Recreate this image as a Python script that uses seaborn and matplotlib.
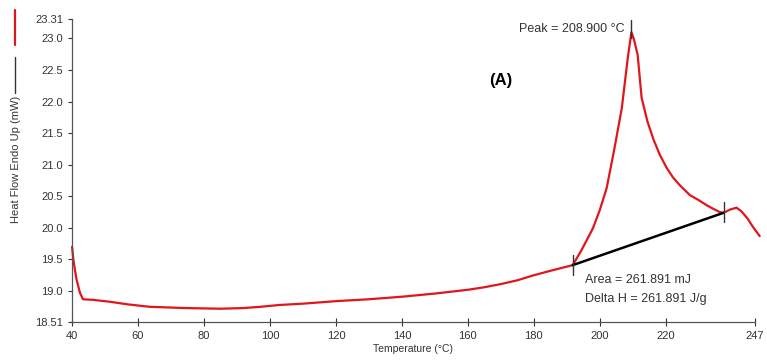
import seaborn as sns
import pandas as pd
import numpy as np
import matplotlib
matplotlib.use("Agg")
from matplotlib import pyplot as plt
from matplotlib.lines import Line2D

sns.set_style("ticks")
plt.rcParams["font.family"] = ["Liberation Sans", "DejaVu Sans"]

# DSC curve (temperature in °C, heat flow in mW)
temp = [40, 40.4, 40.9, 41.4, 42.4, 43.3, 46.4, 51.5, 56.7, 63.6, 74.8, 85,
        91.8, 97, 103, 110, 120, 130, 140, 150, 160, 165, 170, 175, 180, 185,
        188, 191.8, 194.5, 197.9, 200, 202.1, 204.5, 206.7, 208.5, 209.6,
        210.4, 211.5, 212.7, 214.5, 216.3, 218.2, 220.3, 222.2, 224.2, 227.3,
        230, 232.4, 234.5, 236.4, 237.6, 239.5, 241.5, 243, 244.8, 246.4,
        248.5]
heat = [19.70, 19.49, 19.32, 19.17, 18.97, 18.87, 18.86, 18.83, 18.79, 18.75,
        18.73, 18.72, 18.73, 18.75, 18.78, 18.80, 18.84, 18.87, 18.91, 18.96,
        19.02, 19.06, 19.11, 19.17, 19.25, 19.32, 19.36, 19.41, 19.65, 19.99,
        20.28, 20.63, 21.27, 21.90, 22.69, 23.10, 22.98, 22.74, 22.06, 21.68,
        21.40, 21.16, 20.95, 20.80, 20.68, 20.52, 20.44, 20.36, 20.30, 20.25,
        20.24, 20.29, 20.32, 20.26, 20.15, 20.02, 19.87]

# baseline used for the area integration
base_t = [191.8, 237.6]
base_v = [19.41, 20.24]

peak_t = 209.6
peak_v = [23.0, 23.29]
start_v = [19.25, 19.57]
end_v = [20.09, 20.41]

y_ticks = [18.51, 19.0, 19.5, 20.0, 20.5, 21.0, 21.5, 22.0, 22.5, 23.0, 23.31]
y_labels = ["18.51", "19.0", "19.5", "20.0", "20.5", "21.0", "21.5", "22.0",
            "22.5", "23.0", "23.31"]
x_ticks = [40, 60, 80, 100, 120, 140, 160, 180, 200, 220, 247]

df = pd.DataFrame({"temp": temp, "heat": heat})

fig = plt.figure(figsize=(7.67, 3.63), dpi=100)
ax = fig.add_axes([0.094, 0.113, 0.890, 0.835])

sns.lineplot(data=df, x="temp", y="heat", sort=False, color="#e0161b",
             linewidth=1.6, ax=ax, clip_on=False)
ax.plot(base_t, base_v, color="black", linewidth=1.8)

# tick marks on the curve
ax.plot([peak_t, peak_t], peak_v, color="#333333", linewidth=1)
ax.plot([base_t[0], base_t[0]], start_v, color="#333333", linewidth=1)
ax.plot([base_t[1], base_t[1]], end_v, color="#333333", linewidth=1)

ax.text(peak_t - 2.0, 23.15, "Peak = 208.900 °C", ha="right", va="center",
        fontsize=9, color="#333333")
ax.text(195.6, 19.17, "Area = 261.891 mJ", ha="left", va="center",
        fontsize=9, color="#333333")
ax.text(195.6, 18.88, "Delta H = 261.891 J/g", ha="left", va="center",
        fontsize=9, color="#333333")
ax.text(166.6, 22.33, "(A)", ha="left", va="center", fontsize=12,
        fontweight="bold", color="black")

ax.set_xlim(40, 247)
ax.set_ylim(18.51, 23.31)
ax.set_xticks(x_ticks)
ax.set_xticklabels([str(t) for t in x_ticks])
ax.set_yticks(y_ticks)
ax.set_yticklabels(y_labels)
ax.tick_params(axis="x", direction="inout", length=6, labelsize=8,
               colors="#333333", width=0.8)
ax.tick_params(axis="y", direction="out", length=3, labelsize=8,
               colors="#333333", width=0.8)
ax.set_xlabel("Temperature (°C)", fontsize=7.5, color="#333333", labelpad=2)
ax.set_ylabel("Heat Flow Endo Up (mW)", fontsize=8, color="#333333",
              labelpad=4)
ax.yaxis.set_label_coords(-0.075, 0.535)
sns.despine(ax=ax)
for s in ["left", "bottom"]:
    ax.spines[s].set_color("#555555")
    ax.spines[s].set_linewidth(0.9)

# little legend keys beside the y label
fig.add_artist(Line2D([15 / 767, 15 / 767], [1 - 10 / 363, 1 - 45 / 363],
                      color="#e0161b", linewidth=1.6))
fig.add_artist(Line2D([15 / 767, 15 / 767], [1 - 57 / 363, 1 - 93 / 363],
                      color="#333333", linewidth=1))

fig.savefig("out.png", dpi=100)
